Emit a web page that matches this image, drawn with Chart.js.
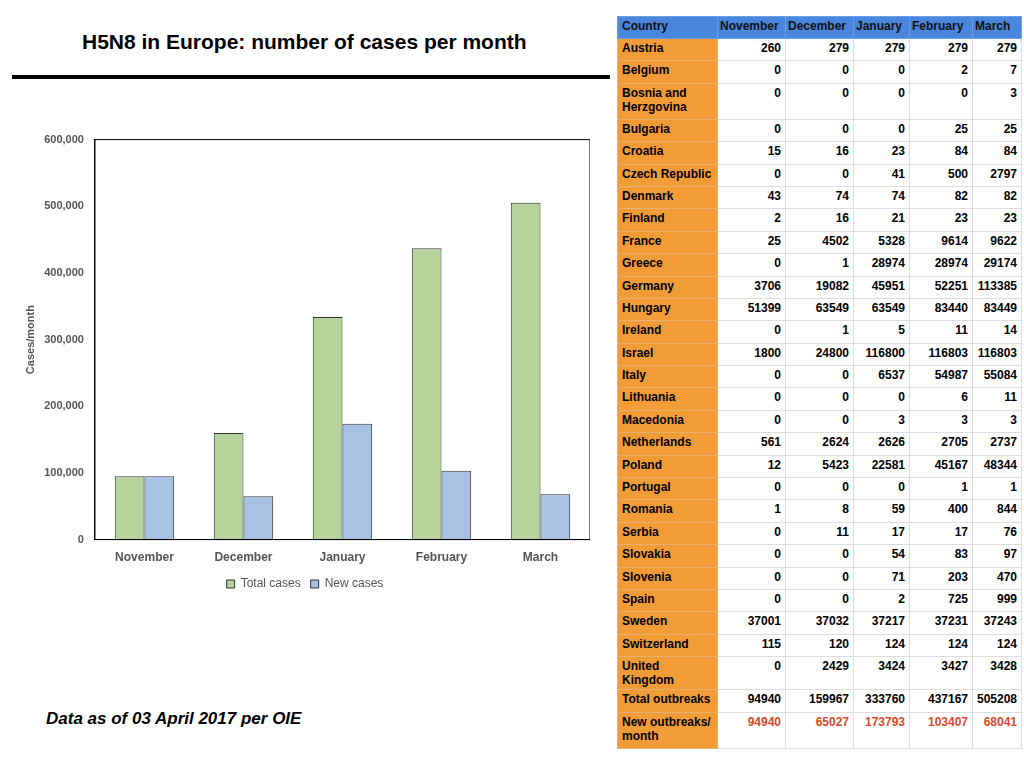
<!DOCTYPE html>
<html><head><meta charset="utf-8">
<script src="https://cdn.jsdelivr.net/npm/chart.js@4"></script>
<style>
body{margin:0;width:1024px;height:768px;background:#fff;font-family:"Liberation Sans",Arial,sans-serif;position:relative;overflow:hidden}
#title{position:absolute;left:82px;top:30px;font-size:21px;font-weight:bold}
#rule{position:absolute;left:12px;top:75px;width:598px;height:4px;background:#000}
#foot{position:absolute;left:46px;top:709px;font-size:17px;font-weight:bold;font-style:italic}
#cw{position:absolute;left:20px;top:130px;width:570px;height:470px}
table{position:absolute;left:617px;top:16px;border-collapse:collapse;font-size:12px;font-weight:bold}
td,th{padding:2px 4px;vertical-align:top;border:1px solid #ddd;height:18px;box-sizing:border-box}
th{background:#4a86dc;color:#111;text-align:left;font-weight:bold;height:22px;border:1px solid #6a9ee6}
td{text-align:right;height:22.4px}
td.c{background:#f29c38;text-align:left;border:1px solid #e8b070}
tr.d td{height:36px}
tr.r td:not(.c){color:#d94a2a}
</style></head><body>
<div id="title">H5N8 in Europe: number of cases per month</div>
<div id="rule"></div>
<div id="cw"><canvas id="ch"></canvas></div>
<div id="foot">Data as of 03 April 2017 per OIE</div>
<table id="tb"></table>
<script>
const months=["November","December","January","February","March"];
const totalCases=[94940,159967,333760,437167,505208];
const newCases=[94940,65027,173793,103407,68041];
const countries=["Austria","Belgium","Bosnia and Herzgovina","Bulgaria","Croatia","Czech Republic","Denmark","Finland","France","Greece","Germany","Hungary","Ireland","Israel","Italy","Lithuania","Macedonia","Netherlands","Poland","Portugal","Romania","Serbia","Slovakia","Slovenia","Spain","Sweden","Switzerland","United Kingdom"];
const countryValues=[[260,279,279,279,279],[0,0,0,2,7],[0,0,0,0,3],[0,0,0,25,25],[15,16,23,84,84],[0,0,41,500,2797],[43,74,74,82,82],[2,16,21,23,23],[25,4502,5328,9614,9622],[0,1,28974,28974,29174],[3706,19082,45951,52251,113385],[51399,63549,63549,83440,83449],[0,1,5,11,14],[1800,24800,116800,116803,116803],[0,0,6537,54987,55084],[0,0,0,6,11],[0,0,3,3,3],[561,2624,2626,2705,2737],[12,5423,22581,45167,48344],[0,0,0,1,1],[1,8,59,400,844],[0,11,17,17,76],[0,0,54,83,97],[0,0,71,203,470],[0,0,2,725,999],[37001,37032,37217,37231,37243],[115,120,124,124,124],[0,2429,3424,3427,3428]];
const tb=document.getElementById('tb');
let h='<tr><th style="width:100px">Country</th>'+months.map((m,i)=>'<th style="width:'+[68,68,56,63,44][i]+'px;padding:2px 2px">'+m+'</th>').join('')+'</tr>';
countries.forEach((c,i)=>{const d=(c.length>18)?' class="d"':'';h+='<tr'+d+'><td class="c">'+c+'</td>'+countryValues[i].map(v=>'<td>'+v+'</td>').join('')+'</tr>';});
h+='<tr><td class="c">Total outbreaks</td>'+totalCases.map(v=>'<td>'+v+'</td>').join('')+'</tr>';
h+='<tr class="d r"><td class="c">New outbreaks/ month</td>'+newCases.map(v=>'<td>'+v+'</td>').join('')+'</tr>';
tb.innerHTML=h;
new Chart(document.getElementById('ch'),{type:'bar',data:{labels:months,datasets:[
{label:'Total cases',data:totalCases,backgroundColor:'#b5d39a',borderColor:'#333',borderWidth:1,categoryPercentage:0.6,barPercentage:1},
{label:'New cases',data:newCases,backgroundColor:'#a8c2e6',borderColor:'#333',borderWidth:1,categoryPercentage:0.6,barPercentage:1}]},
options:{animation:false,responsive:true,maintainAspectRatio:false,
plugins:{legend:{position:'bottom',labels:{boxWidth:8,boxHeight:8,color:'#555',font:{size:12}}}},
scales:{x:{grid:{display:false},border:{color:'#000'},ticks:{color:'#555',font:{size:12,weight:'bold'}}},
y:{min:0,max:600000,ticks:{stepSize:100000,color:'#555',font:{size:11,weight:'bold'}},grid:{display:false},border:{color:'#000'},
title:{display:true,text:'Cases/month',color:'#555',font:{size:11,weight:'bold'}}}}},
plugins:[{id:'box',afterDraw(c){const a=c.chartArea,x=c.ctx;x.save();x.strokeStyle='#000';x.lineWidth=1;x.strokeRect(a.left,a.top,a.right-a.left,a.bottom-a.top);x.restore();}}]});
</script></body></html>
